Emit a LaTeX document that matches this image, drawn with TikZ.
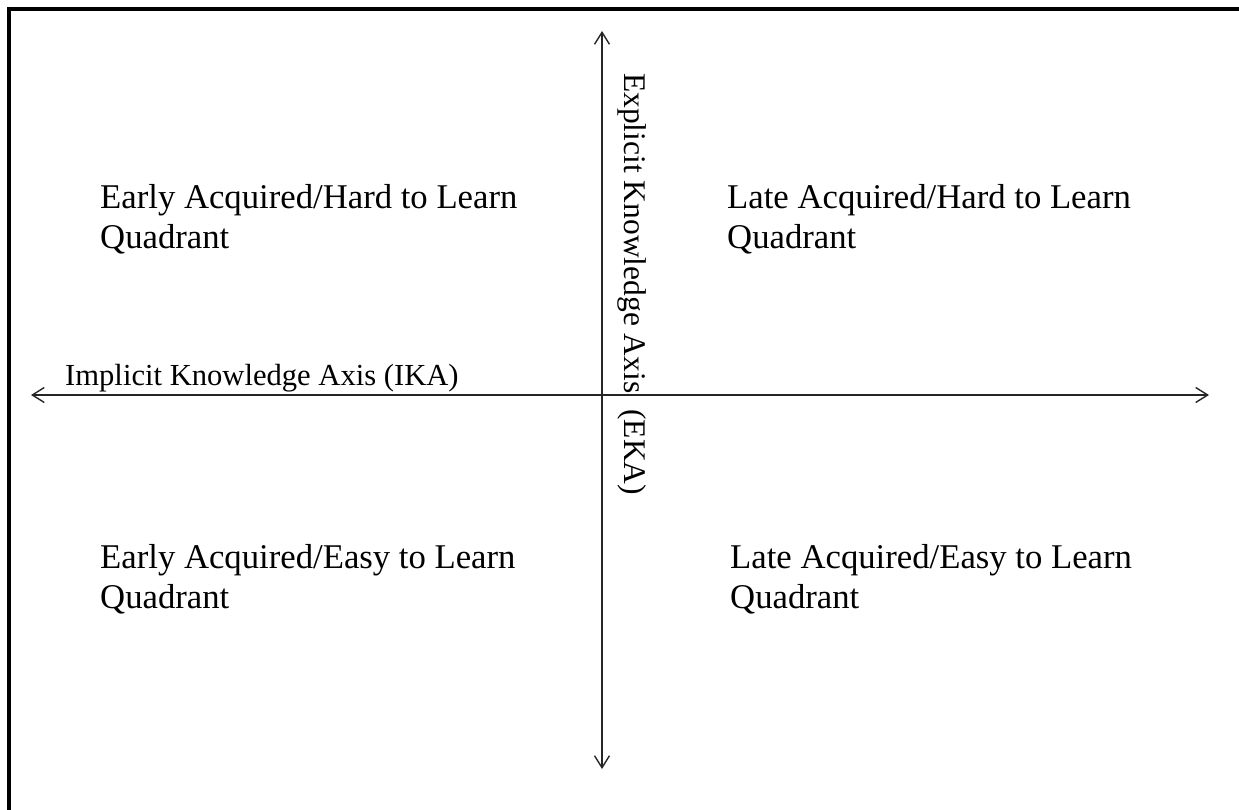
\documentclass[tikz,border=0pt]{standalone}
\usepackage{fontspec}
\setmainfont{Liberation Serif}
\usetikzlibrary{arrows.meta}
\tikzset{
  quad/.style={anchor=base west, inner sep=0pt, align=left,
    font=\fontsize{34.7}{40}\selectfont},
  axlabel/.style={inner sep=0pt},
  axis/.style={line width=1.4pt, draw=black!85,
    -{Straight Barb[length=12pt,width=15pt,line width=1.4pt]}},
  frame/.style={line width=4.5pt, draw=black}
}
\begin{document}
\begin{tikzpicture}[x=1pt,y=-1pt]
  \useasboundingbox (0,0) rectangle (1239,810);
  \clip (0,0) rectangle (1239,810);
  \draw[frame] (9,9) rectangle (1260,830);
  % axis end points
  \coordinate (L) at (31,395);
  \coordinate (R) at (1209,395);
  \coordinate (T) at (602,31);
  \coordinate (B) at (602,769);
  \coordinate (C) at (602,395);
  \draw[axis] (C) -- (L);
  \draw[axis] (C) -- (R);
  \draw[axis] (C) -- (T);
  \draw[axis] (C) -- (B);
  % labels
  \node[axlabel, anchor=base west, font=\fontsize{30.6}{31}\selectfont] (ika) at (65,385) {Implicit Knowledge Axis (IKA)};
  \node[axlabel, anchor=base west, rotate=-90, font=\fontsize{31.5}{32}\selectfont] (eka) at (624,73) {Explicit Knowledge Axis\hspace{16pt}(EKA)};
  % quadrants
  \node[quad] (q1) at (100,249) {Early Acquired/Hard to Learn\\Quadrant};
  \node[quad] (q2) at (727,249) {Late Acquired/Hard to Learn\\Quadrant};
  \node[quad] (q3) at (100,608) {Early Acquired/Easy to Learn\\Quadrant};
  \node[quad] (q4) at (730,608) {Late Acquired/Easy to Learn\\Quadrant};
\end{tikzpicture}
\end{document}
